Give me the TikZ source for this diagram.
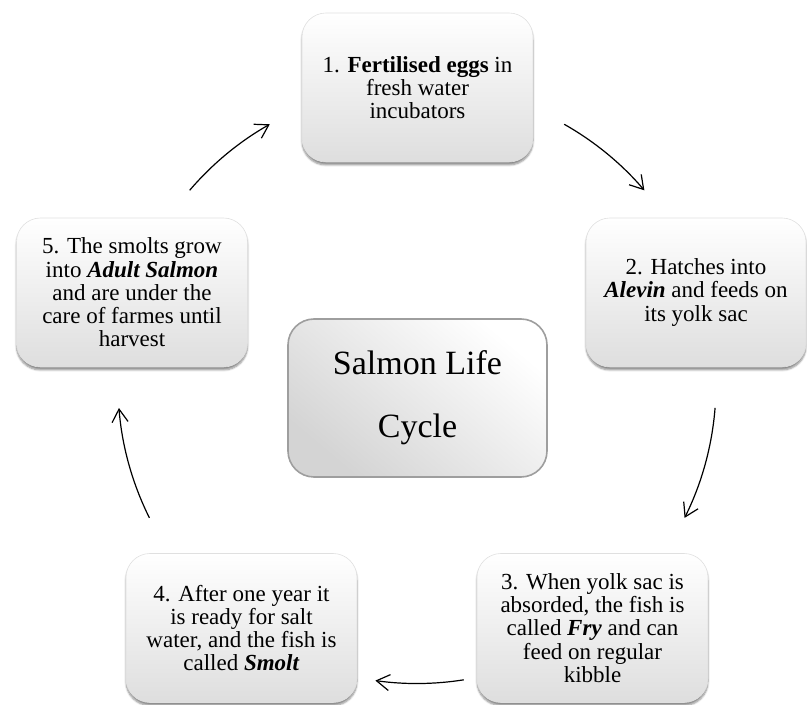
\documentclass[tikz,border=0pt]{standalone}
\usepackage{fontspec}
\setmainfont{Liberation Serif}
\usetikzlibrary{arrows.meta,shadows.blur}

\begin{document}
\begin{tikzpicture}[x=1pt, y=1pt,
    every node/.style={align=center, font=\fontsize{23}{23.3}\selectfont},
    stage/.style={rectangle, rounded corners=24pt, draw=black!12, line width=0.6pt,
                  top color=white, bottom color=black!13,
                  minimum width=231pt, minimum height=149pt, inner sep=0pt,
                  blur shadow={shadow xshift=0pt, shadow yshift=-3pt, shadow blur steps=6, shadow opacity=45}},
    hub/.style={rectangle, rounded corners=26pt, draw=black!38, line width=1.6pt,
                top color=white, bottom color=black!17, shading angle=-40,
                minimum width=259pt, minimum height=158pt, inner sep=0pt,
                font=\fontsize{34}{63}\selectfont},
    cyc/.style={-{Straight Barb[length=13pt, width=16pt]}, line width=1.2pt},
]
    \useasboundingbox (0,0) rectangle (807,705);
    \coordinate (mid) at (417, 320.5);
    \node[hub] (life) at (417.5, 307) {Salmon Life\\Cycle};
    \node[stage] (eggs) at (417.5, 617.5) {1. \textbf{Fertilised eggs} in\\fresh water\\incubators};
    \node[stage, minimum width=220pt] (alevin) at (696, 412.5) {2. Hatches into\\\textbf{\textit{Alevin}} and feeds on\\its yolk sac};
    \node[stage] (fry) at (592.5, 77) {3. When yolk sac is\\absorded, the fish is\\called \textbf{\textit{Fry}} and can\\feed on regular\\kibble};
    \node[stage] (smolt) at (241.5, 77) {4. After one year it\\is ready for salt\\water, and the fish is\\called \textbf{\textit{Smolt}}};
    \node[stage] (adult) at (132, 412.5) {5. The smolts grow\\into \textbf{\textit{Adult Salmon}}\\and are under the\\care of farmes until\\harvest};
    \draw[cyc] ([shift={(139.5:299)}]mid) arc[start angle=139.5, end angle=119.5, radius=299pt];
    \draw[cyc] ([shift={(60.5:299)}]mid) arc[start angle=60.5, end angle=40.5, radius=299pt];
    \draw[cyc] ([shift={(-4.5:299)}]mid) arc[start angle=-4.5, end angle=-26.5, radius=299pt];
    \draw[cyc] ([shift={(-81:299)}]mid) arc[start angle=-81, end angle=-98, radius=299pt];
    \draw[cyc] ([shift={(206.5:299)}]mid) arc[start angle=206.5, end angle=184.5, radius=299pt];
\end{tikzpicture}
\end{document}
